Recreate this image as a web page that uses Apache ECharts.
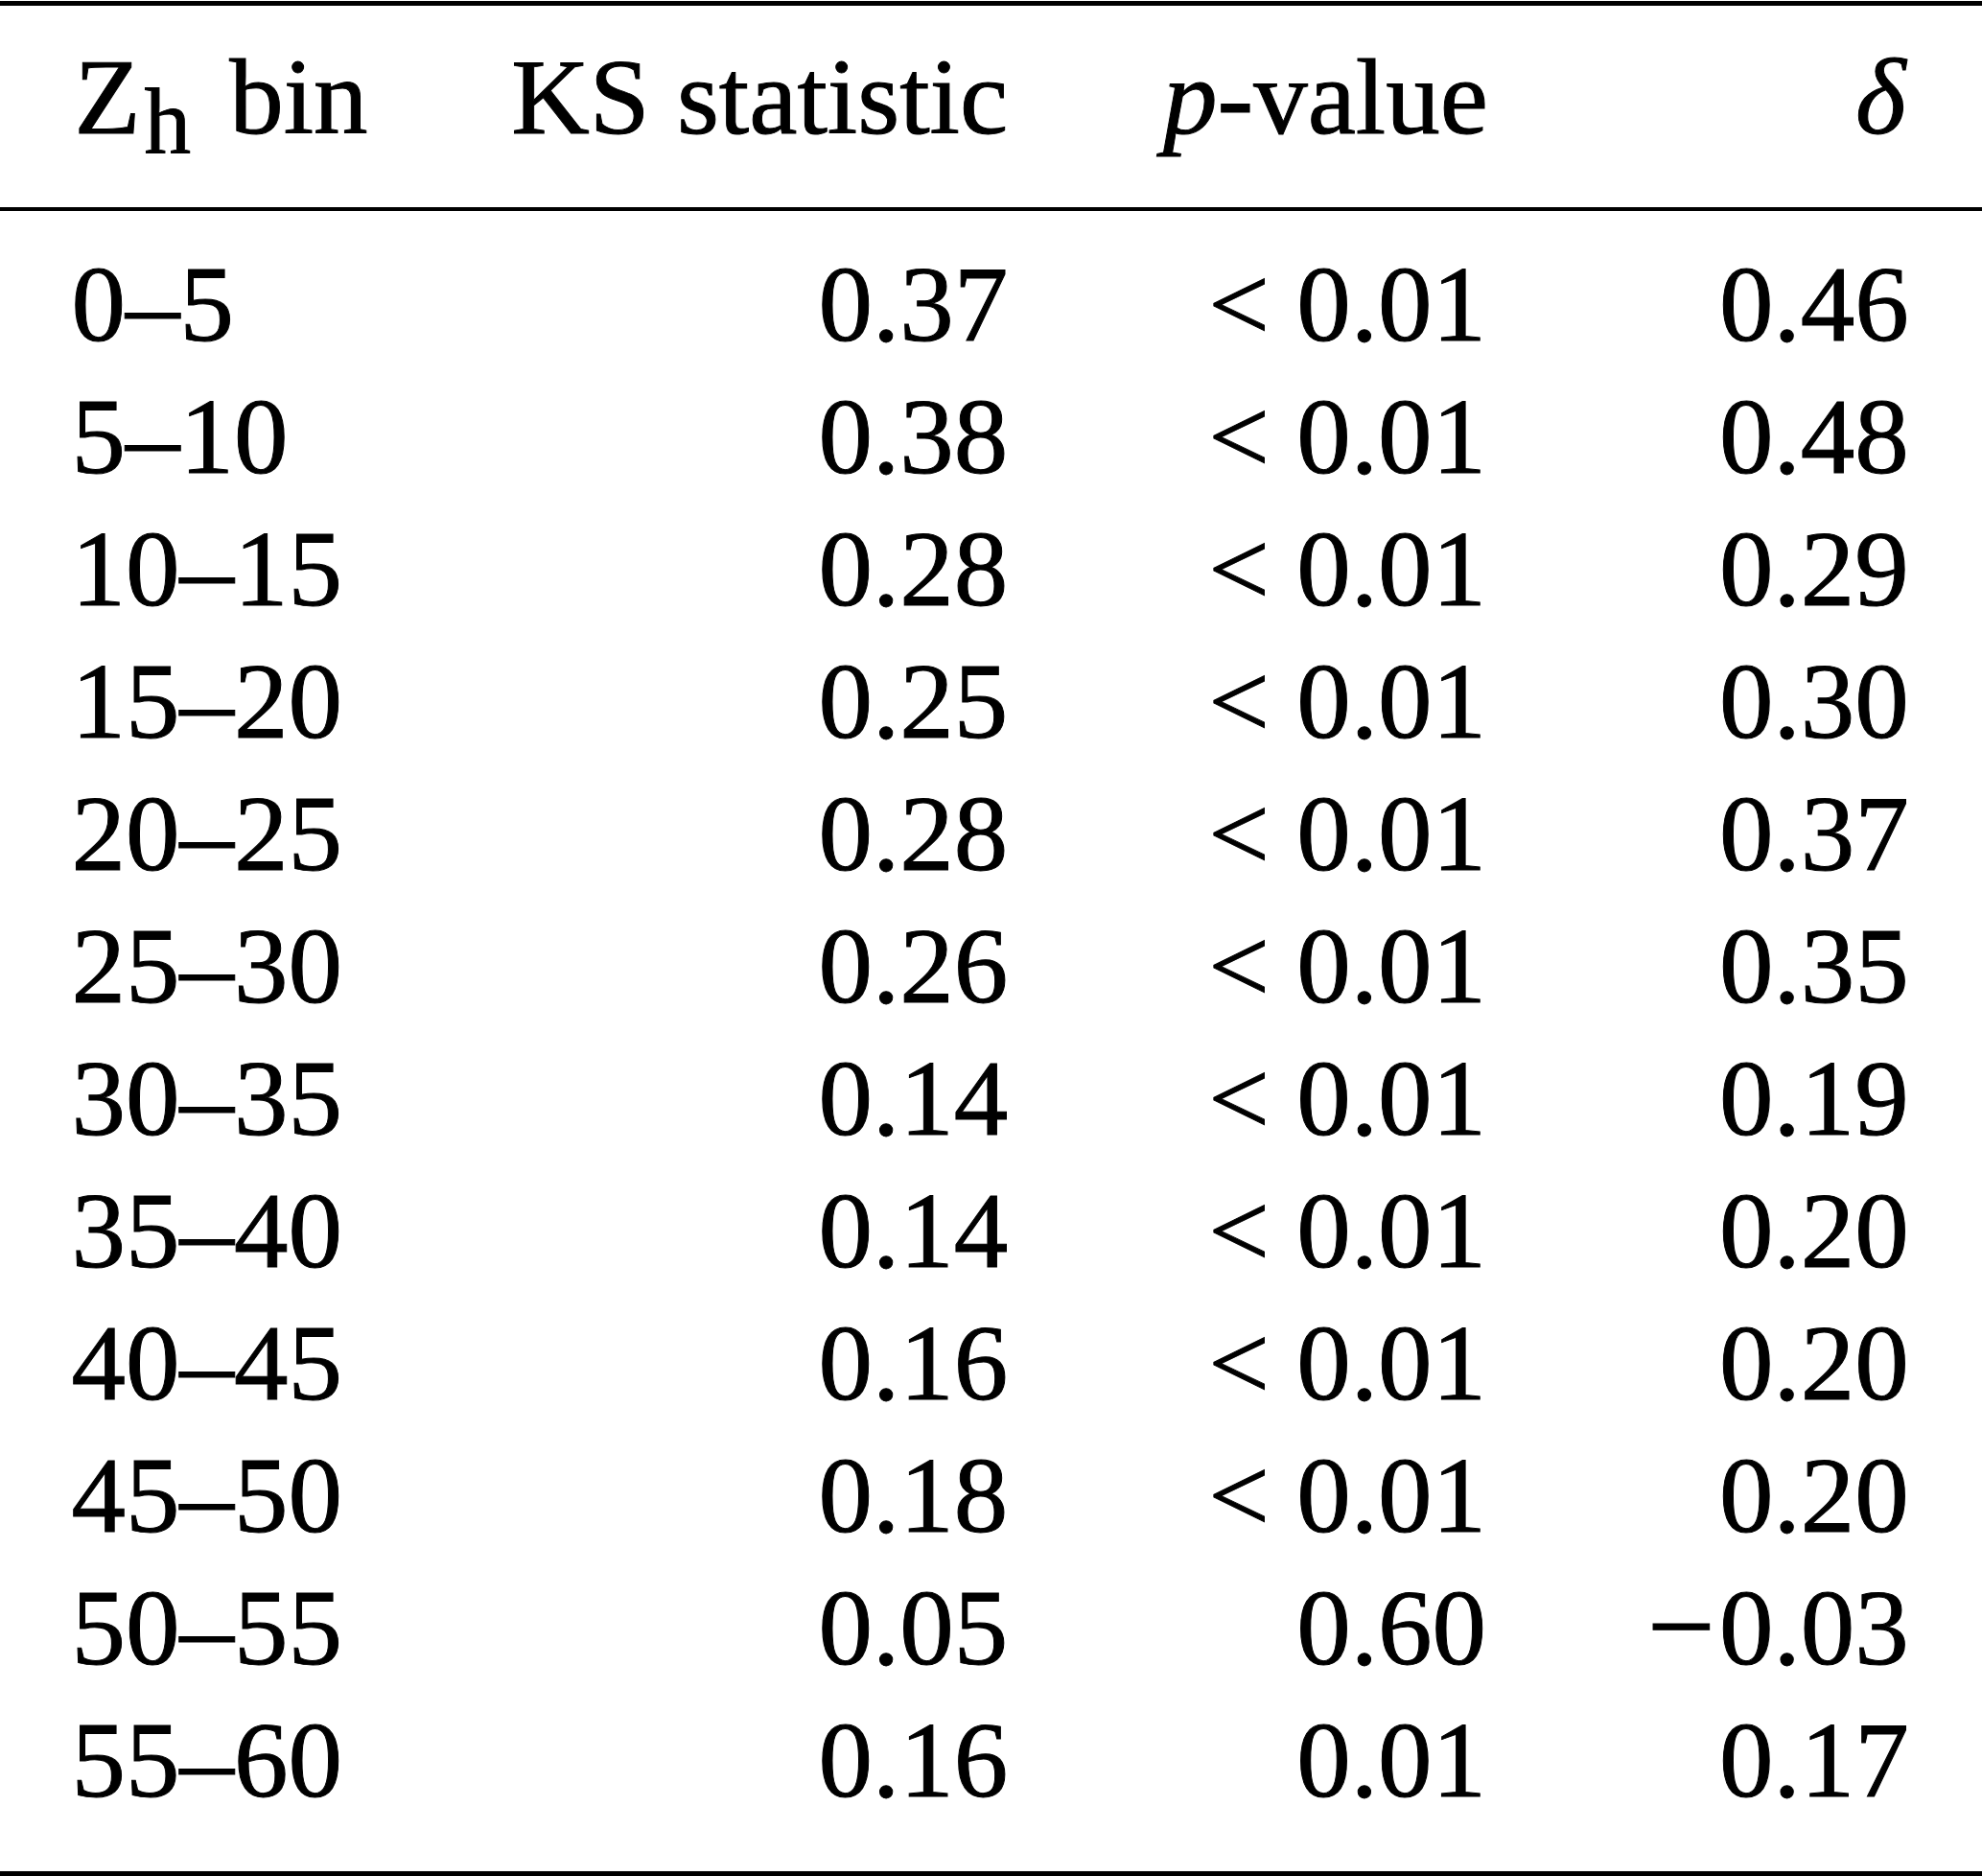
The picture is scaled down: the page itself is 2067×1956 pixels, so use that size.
<!DOCTYPE html>
<html>
<head>
<meta charset="utf-8">
<script src="https://cdn.jsdelivr.net/npm/echarts@6/dist/echarts.min.js"></script>
<title>KS table</title>
<style>
    html, body { margin: 0; padding: 0; background: #fff; }
    #main { width: 2067px; height: 1956px; }
</style>
</head>
<body>
<div id="main"></div>
<script type="text/javascript">
    var columns = ['bin', 'ks', 'p', 'delta'];
    var bins = ['0–5', '5–10', '10–15', '15–20', '20–25', '25–30',
        '30–35', '35–40', '40–45', '45–50', '50–55', '55–60'];
    var ksStat = [0.37, 0.38, 0.28, 0.25, 0.28, 0.26, 0.14, 0.14, 0.16, 0.18, 0.05, 0.16];
    var pValues = ['< 0.01', '< 0.01', '< 0.01', '< 0.01', '< 0.01', '< 0.01',
        '< 0.01', '< 0.01', '< 0.01', '< 0.01', '0.60', '0.01'];
    var deltas = [0.46, 0.48, 0.29, 0.30, 0.37, 0.35, 0.19, 0.20, 0.20, 0.20, -0.03, 0.17];
    var headers = {
        bin: '{r|Z}{s|h}{r| bin}',
        ks: 'KS statistic',
        p: '{i|p}{r|-value}',
        delta: '{i|δ}'
    };

    var FONT = '"Liberation Serif", "Times New Roman", serif';
    var SIZE = 113;

    function fmt(v) {
        return (v < 0 ? '{m|\u2212}' : '') + Math.abs(v).toFixed(2);
    }

    var cellText = {
        bin: bins,
        ks: ksStat.map(fmt),
        p: pValues,
        delta: deltas.map(fmt)
    };

    // text side and shift from the centre of each column band
    var colStyle = {
        bin: { align: 'left', dx: -184, hdx: -181 },
        ks: { align: 'right', dx: 276, hdx: 276 },
        p: { align: 'right', dx: 258, hdx: 260 },
        delta: { align: 'right', dx: 182, hdx: 179 }
    };

    // scatter labels take the symbol opacity (0.8) unless told otherwise
    var ink = { color: '#000', opacity: 1, textBorderColor: '#000', textBorderWidth: 1 };

    var rich = {
        r: Object.assign({ fontFamily: FONT, fontSize: SIZE, lineHeight: 130 }, ink),
        s: Object.assign({ fontFamily: FONT, fontSize: 97, lineHeight: 130, padding: [47, 12, 0, 4] }, ink),
        i: Object.assign({ fontFamily: FONT, fontSize: SIZE, fontStyle: 'italic', lineHeight: 130 }, ink),
        m: Object.assign({ fontFamily: FONT, fontSize: 126, padding: [0, 4, 0, 0] }, ink)
    };

    function hiddenAxis(gridIndex, data, extra) {
        var axis = {
            gridIndex: gridIndex,
            type: 'category',
            data: data,
            axisTick: { show: false },
            axisLabel: { show: false },
            splitLine: { show: false },
            axisLine: { show: false }
        };
        return Object.assign(axis, extra || {});
    }

    var series = [];
    columns.forEach(function (c) {
        var st = colStyle[c];
        series.push({
            type: 'scatter',
            xAxisIndex: 0,
            yAxisIndex: 0,
            silent: true,
            symbolSize: 1,
            itemStyle: { color: 'rgba(0,0,0,0)', opacity: 1 },
            data: [[c, 'head']],
            label: Object.assign({
                show: true,
                position: 'inside',
                align: st.align,
                verticalAlign: 'middle',
                offset: [st.hdx, -1],
                fontFamily: FONT,
                fontSize: SIZE,
                lineHeight: 130,
                rich: rich,
                formatter: headers[c]
            }, ink)
        });
        series.push({
            type: 'scatter',
            xAxisIndex: 2,
            yAxisIndex: 1,
            silent: true,
            symbolSize: 1,
            itemStyle: { color: 'rgba(0,0,0,0)', opacity: 1 },
            data: bins.map(function (b) { return [c, b]; }),
            label: Object.assign({
                show: true,
                position: 'inside',
                align: st.align,
                verticalAlign: 'middle',
                offset: [st.dx, 0],
                fontFamily: FONT,
                fontSize: SIZE,
                rich: rich,
                formatter: function (p) { return cellText[c][p.dataIndex]; }
            }, ink)
        });
    });

    var myChart = echarts.init(document.getElementById('main'));
    myChart.setOption({
        animation: false,
        backgroundColor: '#fff',
        grid: [
            { left: 0, right: 0, top: 3.2, height: 214.8 },
            { left: 0, right: 0, top: 256, height: 1656.3 }
        ],
        xAxis: [
            hiddenAxis(0, columns, {
                position: 'top',
                axisLine: { show: true, onZero: false, lineStyle: { color: '#000', width: 5 } }
            }),
            hiddenAxis(0, columns, {
                position: 'bottom',
                axisLine: { show: true, onZero: false, lineStyle: { color: '#000', width: 4 } }
            }),
            hiddenAxis(1, columns, {
                position: 'bottom',
                offset: 41,
                axisLine: { show: true, onZero: false, lineStyle: { color: '#000', width: 5 } }
            })
        ],
        yAxis: [
            hiddenAxis(0, ['head']),
            hiddenAxis(1, bins, { inverse: true })
        ],
        series: series
    });
</script>
</body>
</html>
